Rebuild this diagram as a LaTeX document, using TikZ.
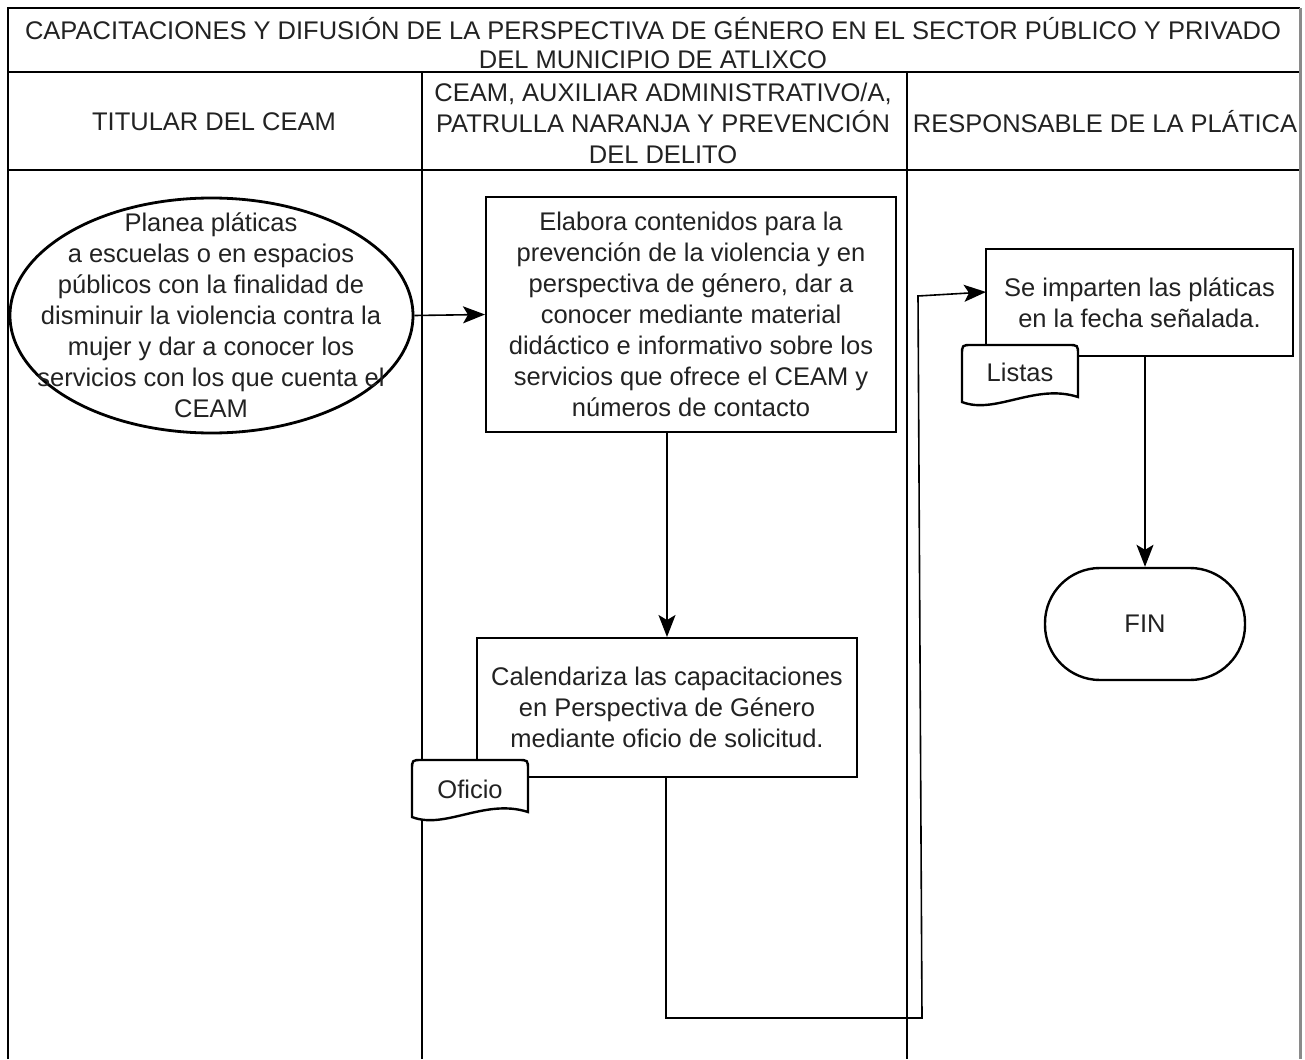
\documentclass[tikz,border=0pt]{standalone}
\usepackage{fontspec}
\setmainfont{Liberation Sans}
\usetikzlibrary{shapes.geometric,arrows.meta}
\definecolor{txt}{HTML}{222222}
\definecolor{rim}{HTML}{8A8A8A}
\begin{document}
\begin{tikzpicture}[x=1pt,y=-1pt,
  font=\fontsize{25.5}{31}\selectfont, text=txt,
  lane/.style={line width=1.5pt, draw=black},
  shp/.style={draw=black, line width=2pt, fill=white},
  box/.style={shp, rectangle, inner sep=0pt, align=center},
  conn/.style={line width=1.6pt, draw=black, -{Stealth[length=22pt,width=17pt,inset=5pt]}},
  pics/docshape/.style={code={
    \draw[shp, line width=2.4pt] (0,57) -- (0,10) .. controls (0,0) .. (10,0) -- (106,0)
      .. controls (116,0) .. (116,10) -- (116,52)
      .. controls (73,38) and (33,70) .. (0,57) -- cycle;}}
]
\useasboundingbox (0,0) rectangle (1305,1059);
\fill[white] (0,0) rectangle (1305,1059);

% swimlane frame
\draw[lane] (8,1059) -- (8,8) -- (1300,8);
\draw[lane] (8,72) -- (1300,72);
\draw[lane] (8,170) -- (1300,170);
\draw[lane] (422,72) -- (422,1059);
\draw[lane] (907,72) -- (907,1059);
\draw[draw=rim, line width=3pt] (1300,8) -- (1300,1059);

% titles
\node[align=center, font=\fontsize{25.5}{29}\selectfont] (title) at (653,43)
  {CAPACITACIONES Y DIFUSIÓN DE LA PERSPECTIVA DE GÉNERO EN EL SECTOR PÚBLICO Y PRIVADO\\DEL MUNICIPIO DE ATLIXCO};
\node (h1) at (214,122) {TITULAR DEL CEAM};
\node[align=center] (h2) at (663,123) {CEAM, AUXILIAR ADMINISTRATIVO/A,\\PATRULLA NARANJA Y PREVENCIÓN\\DEL DELITO};
\node (h3) at (1105,122) {RESPONSABLE DE LA PLÁTICA};

% shapes
\node[shp, ellipse, line width=2.8pt, minimum width=403pt, minimum height=235pt, inner sep=0pt] (planea) at (211.5,315.5) {};
\node[align=center] (planeatxt) at (211,315)
  {Planea pláticas\\a escuelas o en espacios\\públicos con la finalidad de\\disminuir la violencia contra la\\mujer y dar a conocer los\\servicios con los que cuenta el\\CEAM};

\node[box, minimum width=410pt, minimum height=235pt] (elab) at (691,314.5)
  {Elabora contenidos para la\\prevención de la violencia y en\\perspectiva de género, dar a\\conocer mediante material\\didáctico e informativo sobre los\\servicios que ofrece el CEAM y\\números de contacto};

\node[box, minimum width=380pt, minimum height=139pt] (cal) at (667,707.5)
  {Calendariza las capacitaciones\\en Perspectiva de Género\\mediante oficio de solicitud.};

\node[box, minimum width=307pt, minimum height=107pt] (imp) at (1139.5,302.5)
  {Se imparten las pláticas\\en la fecha señalada.};

\node[shp, rectangle, rounded corners=55pt, minimum width=200pt, minimum height=112pt, line width=2.4pt] (fin) at (1145,624) {FIN};

% documents
\pic at (412,760) {docshape};
\node (oficio) at (470,789) {Oficio};
\pic at (962,345) {docshape};
\node (listas) at (1020,372) {Listas};

% connectors
\draw[conn] (planea.east) -- (elab.west);
\draw[conn] (cal.north |- elab.south) -- (cal.north);
\coordinate (c1) at (666,1018);
\coordinate (c2) at (922,1018);
\coordinate (c3) at (918,296);
\coordinate (impin) at (986,292);
\draw[conn] (666,777) -- (c1) -- (c2) -- (c3) -- (impin);
\draw[conn] (fin.north |- imp.south) -- (fin.north);
\end{tikzpicture}
\end{document}
